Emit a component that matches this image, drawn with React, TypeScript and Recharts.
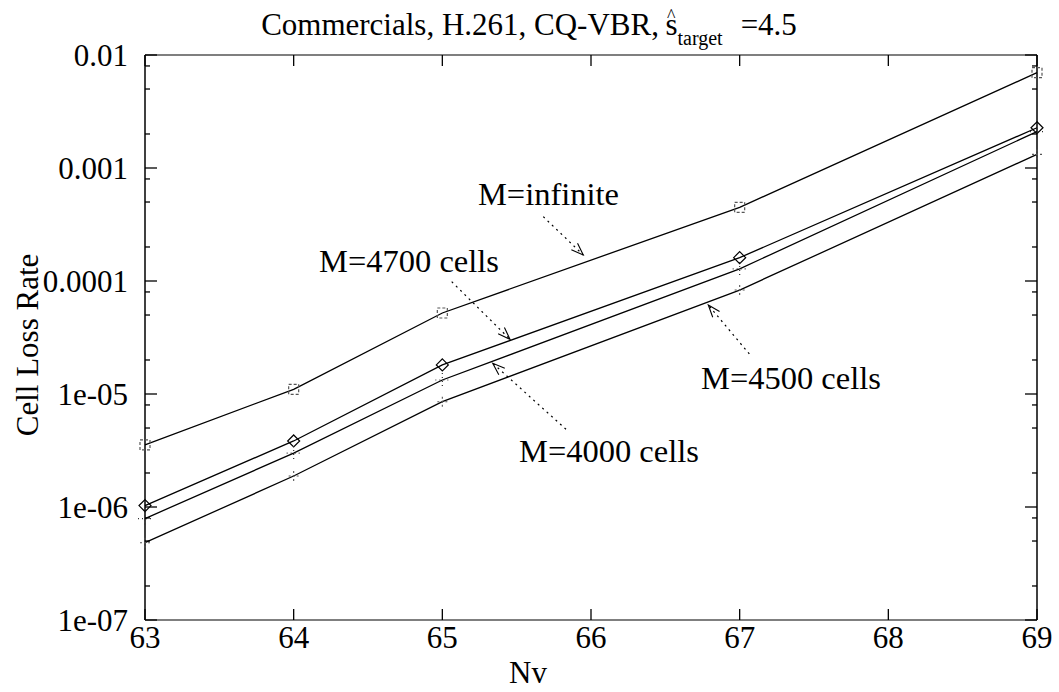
import React from 'react';
import { LineChart, Line, XAxis, YAxis, ReferenceLine, ReferenceDot, Customized } from 'recharts';

// ---- data ----
const nv = [63, 64, 65, 67, 69];
const clrInfinite = [3.54e-6, 1.1e-5, 5.21e-5, 4.49e-4, 6.97e-3];
const clr4700 = [1.03e-6, 3.84e-6, 1.81e-5, 1.61e-4, 2.27e-3];
const clr4500 = [7.9e-7, 3.0e-6, 1.33e-5, 1.28e-4, 2.1e-3];
const clr4000 = [4.83e-7, 1.88e-6, 8.55e-6, 8.32e-5, 1.32e-3];

const xTicks = [63, 64, 65, 66, 67, 68, 69];
const yMajorTicks = [1e-7, 1e-6, 1e-5, 1e-4, 1e-3, 1e-2];
const yTickLabels = ['1e-07', '1e-06', '1e-05', '0.0001', '0.001', '0.01'];
const yMinorMultipliers = [2, 5, 8];

const annotationLabels = [
  { text: 'M=infinite', x: 65.714, y: 4.71e-4 },
  { text: 'M=4700 cells', x: 64.776, y: 1.2e-4 },
  { text: 'M=4500 cells', x: 67.345, y: 1.107e-5 },
  { text: 'M=4000 cells', x: 66.121, y: 2.52e-6 },
];
const annotationArrows = [
  { x1: 65.679, y1: 3.71e-4, x2: 65.948, y2: 1.7e-4 },
  { x1: 65.063, y1: 9.86e-5, x2: 65.455, y2: 3.05e-5 },
  { x1: 67.065, y1: 2.26e-5, x2: 66.789, y2: 6.13e-5 },
  { x1: 65.832, y1: 4.87e-6, x2: 65.339, y2: 1.87e-5 },
];

const data = nv.map((x, i) => ({
  nv: x,
  inf: clrInfinite[i],
  m4700: clr4700[i],
  m4500: clr4500[i],
  m4000: clr4000[i],
}));

const yTicks: number[] = [];
yMajorTicks.forEach((d, i) => {
  yTicks.push(d);
  if (i < yMajorTicks.length - 1) yMinorMultipliers.forEach((m) => yTicks.push(m * d));
});

const FONT = '"Liberation Serif", "Times New Roman", serif';
const FS = 31;
const FS_ANN = 32.5;

const majorIndex = (v: number) =>
  yMajorTicks.findIndex((d) => Math.abs(v - d) / d < 1e-6);

const LeftTick = (props: any) => {
  const { x, y, payload } = props;
  const idx = majorIndex(payload.value);
  const len = idx >= 0 ? 12 : 5;
  return (
    <g>
      <line x1={x} y1={y} x2={x + len} y2={y} stroke="#000" strokeWidth={1.3} />
      {idx >= 0 && (
        <text x={x - 17} y={y} dy="0.35em" textAnchor="end" fontFamily={FONT} fontSize={FS} fill="#000">
          {yTickLabels[idx]}
        </text>
      )}
    </g>
  );
};

const RightTick = (props: any) => {
  const { x, y, payload } = props;
  const idx = majorIndex(payload.value);
  const len = idx >= 0 ? 12 : 5;
  return <line x1={x} y1={y} x2={x - len} y2={y} stroke="#000" strokeWidth={1.3} />;
};

const BottomTick = (props: any) => {
  const { x, y, payload } = props;
  return (
    <g>
      <line x1={x} y1={y} x2={x} y2={y - 11} stroke="#000" strokeWidth={1.3} />
      <text x={x} y={y + 28} textAnchor="middle" fontFamily={FONT} fontSize={FS} fill="#000">
        {payload.value}
      </text>
    </g>
  );
};

const TopTick = (props: any) => {
  const { x, y } = props;
  return <line x1={x} y1={y} x2={x} y2={y + 11} stroke="#000" strokeWidth={1.3} />;
};

const SquareDot = (p: any) => {
  const { cx, cy, index } = p;
  return (
    <rect key={`sq${index}`} x={cx - 5} y={cy - 5} width={10} height={10} fill="none" stroke="#555" strokeWidth={1.2} strokeDasharray="3 2" />
  );
};
const DiamondDot = (p: any) => {
  const { cx, cy, index } = p;
  const r = 6;
  return (
    <polygon key={`di${index}`} points={`${cx},${cy - r} ${cx + r},${cy} ${cx},${cy + r} ${cx - r},${cy}`} fill="none" stroke="#000" strokeWidth={1.2} />
  );
};
const DottedPlusDot = (p: any) => {
  const { cx, cy, index } = p;
  const r = 7;
  return (
    <g key={`dp${index}`} stroke="#333" strokeWidth={1.2} strokeDasharray="1 3">
      <line x1={cx - r} y1={cy} x2={cx + r} y2={cy} />
      <line x1={cx} y1={cy - r} x2={cx} y2={cy + r} />
    </g>
  );
};
const PlusDot = (p: any) => {
  const { cx, cy, index } = p;
  const r = 5;
  return (
    <g key={`pl${index}`} stroke="#555" strokeWidth={1.1} strokeDasharray="2 2">
      <line x1={cx - r} y1={cy} x2={cx + r} y2={cy} />
      <line x1={cx} y1={cy - r} x2={cx} y2={cy + r} />
    </g>
  );
};

const ArrowShape = (props: any) => {
  const { x1, y1, x2, y2 } = props;
  if ([x1, y1, x2, y2].some((v) => v == null || isNaN(v))) return <g />;
  const ang = Math.atan2(y2 - y1, x2 - x1);
  const hl = 13;
  const spread = 0.35;
  const ax = x2 - hl * Math.cos(ang - spread);
  const ay = y2 - hl * Math.sin(ang - spread);
  const bx = x2 - hl * Math.cos(ang + spread);
  const by = y2 - hl * Math.sin(ang + spread);
  return (
    <g>
      <line x1={x1} y1={y1} x2={x2} y2={y2} stroke="#000" strokeWidth={1.2} strokeDasharray="2 4" />
      <polyline points={`${ax},${ay} ${x2},${y2} ${bx},${by}`} fill="none" stroke="#000" strokeWidth={1.1} />
    </g>
  );
};

const makeLabelShape = (text: string) => (props: any) => {
  const { cx, cy } = props;
  return (
    <text x={cx} y={cy} textAnchor="middle" fontFamily={FONT} fontSize={FS_ANN} fill="#000">
      {text}
    </text>
  );
};

const Titles = () => (
  <g fontFamily={FONT} fill="#000">
    <text x={529} y={35} textAnchor="middle" fontSize={FS}>
      Commercials, H.261, CQ-VBR,
      <tspan dx={8} dy={-13} fontSize={18}>^</tspan>
      <tspan dx={-10} dy={13}>s</tspan>
      <tspan dx={0} dy={10} fontSize={20}>target</tspan>
      <tspan dx={18} dy={-10}>=4.5</tspan>
    </text>
    <text x={528} y={683} textAnchor="middle" fontSize={FS}>Nv</text>
    <text x={0} y={0} transform="translate(38,345) rotate(-90)" textAnchor="middle" fontSize={FS}>
      Cell Loss Rate
    </text>
  </g>
);

export default function App() {
  return (
    <div style={{ position: 'absolute', left: 0, top: 0, width: 1059, height: 692, background: '#fff' }}>
      <LineChart width={1059} height={692} data={data} margin={{ top: 45, right: 12, bottom: 32, left: 45 }}>
        <XAxis
          xAxisId="t"
          orientation="top"
          dataKey="nv"
          type="number"
          domain={[63, 69]}
          ticks={xTicks}
          interval={0}
          height={10}
          tickSize={0}
          tickMargin={0}
          tickLine={false}
          tick={<TopTick />}
          axisLine={{ stroke: '#7f7f7f', strokeWidth: 2 }}
        />
        <XAxis
          dataKey="nv"
          type="number"
          domain={[63, 69]}
          ticks={xTicks}
          interval={0}
          height={40}
          tickSize={0}
          tickMargin={0}
          tickLine={false}
          tick={<BottomTick />}
          axisLine={{ stroke: '#7f7f7f', strokeWidth: 2 }}
        />
        <YAxis
          scale="log"
          type="number"
          domain={[1e-7, 1e-2]}
          allowDataOverflow
          ticks={yTicks}
          interval={0}
          width={100}
          tickSize={0}
          tickMargin={0}
          tickLine={false}
          tick={<LeftTick />}
          axisLine={{ stroke: '#000', strokeWidth: 1.5 }}
        />
        <YAxis
          yAxisId="r"
          orientation="right"
          scale="log"
          type="number"
          domain={[1e-7, 1e-2]}
          allowDataOverflow
          ticks={yTicks}
          interval={0}
          width={10}
          tickSize={0}
          tickMargin={0}
          tickLine={false}
          tick={<RightTick />}
          axisLine={{ stroke: '#000', strokeWidth: 1.5 }}
        />
        <Line dataKey="inf" stroke="#000" strokeWidth={1.3} dot={SquareDot} isAnimationActive={false} />
        <Line dataKey="m4700" stroke="#000" strokeWidth={1.3} dot={DiamondDot} isAnimationActive={false} />
        <Line dataKey="m4500" stroke="#000" strokeWidth={1.3} dot={DottedPlusDot} isAnimationActive={false} />
        <Line dataKey="m4000" stroke="#000" strokeWidth={1.3} dot={PlusDot} isAnimationActive={false} />
        {annotationArrows.map((a, i) => (
          <ReferenceLine
            key={`ar${i}`}
            segment={[{ x: a.x1, y: a.y1 }, { x: a.x2, y: a.y2 }]}
            shape={ArrowShape}
          />
        ))}
        {annotationLabels.map((l, i) => (
          <ReferenceDot key={`lb${i}`} x={l.x} y={l.y} r={1} shape={makeLabelShape(l.text)} />
        ))}
        <Customized component={Titles} />
      </LineChart>
    </div>
  );
}
